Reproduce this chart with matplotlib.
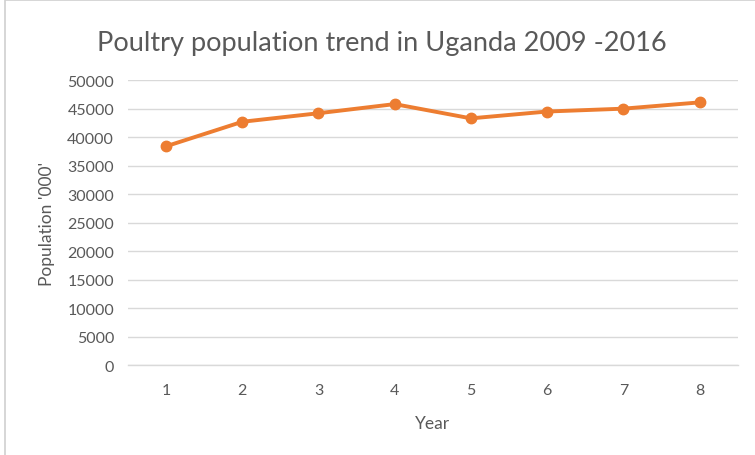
import matplotlib
matplotlib.use("Agg")
import matplotlib.pyplot as plt
from matplotlib.patches import Rectangle

# poultry counts (thousands), years 2009-2016 numbered 1..8
years = [1, 2, 3, 4, 5, 6, 7, 8]
population = [38400, 42700, 44200, 45800, 43300, 44500, 45000, 46100]
y_ticks = list(range(0, 50001, 5000))

ORANGE = "#ED7D31"
GRID = "#D9D9D9"
TEXT = "#595959"

plt.rcParams["font.family"] = ["Lato", "DejaVu Sans"]

fig = plt.figure(figsize=(7.55, 4.56), dpi=100)
ax = fig.add_axes([0.1695, 0.197, 0.8075, 0.625])

# chart-area frame (left and top edges visible)
fig.add_artist(Rectangle((5 / 755, -0.01), 1.0, 1 - 1 / 456 + 0.01,
                         transform=fig.transFigure, fill=False,
                         edgecolor="#D0D0D0", linewidth=1.2))

ax.plot(years, population, color=ORANGE, linewidth=2.8,
        marker="o", markersize=7.5, zorder=3)

ax.set_xlim(0.5, 8.5)
ax.set_ylim(0, 50000)
ax.set_yticks(y_ticks)
ax.set_yticklabels([str(v) for v in y_ticks])
ax.set_xticks(years)
ax.grid(True, axis="y", color=GRID, linewidth=1.0)
ax.set_axisbelow(True)

for side in ("top", "right", "left"):
    ax.spines[side].set_visible(False)
ax.spines["bottom"].set_color(GRID)
ax.spines["bottom"].set_linewidth(1.0)
ax.tick_params(length=0, labelsize=11.5, labelcolor=TEXT)
ax.tick_params(axis="x", pad=13)
ax.tick_params(axis="y", pad=10)

ax.set_xlabel("Year", fontsize=12.5, color=TEXT, labelpad=13)
ax.set_ylabel("Population '000'", fontsize=12.5, color=TEXT, labelpad=9)
fig.text(0.506, 0.905, "Poultry population trend in Uganda 2009 -2016",
         ha="center", va="center", fontsize=19.5, color=TEXT)

fig.savefig("out.png", dpi=100)
